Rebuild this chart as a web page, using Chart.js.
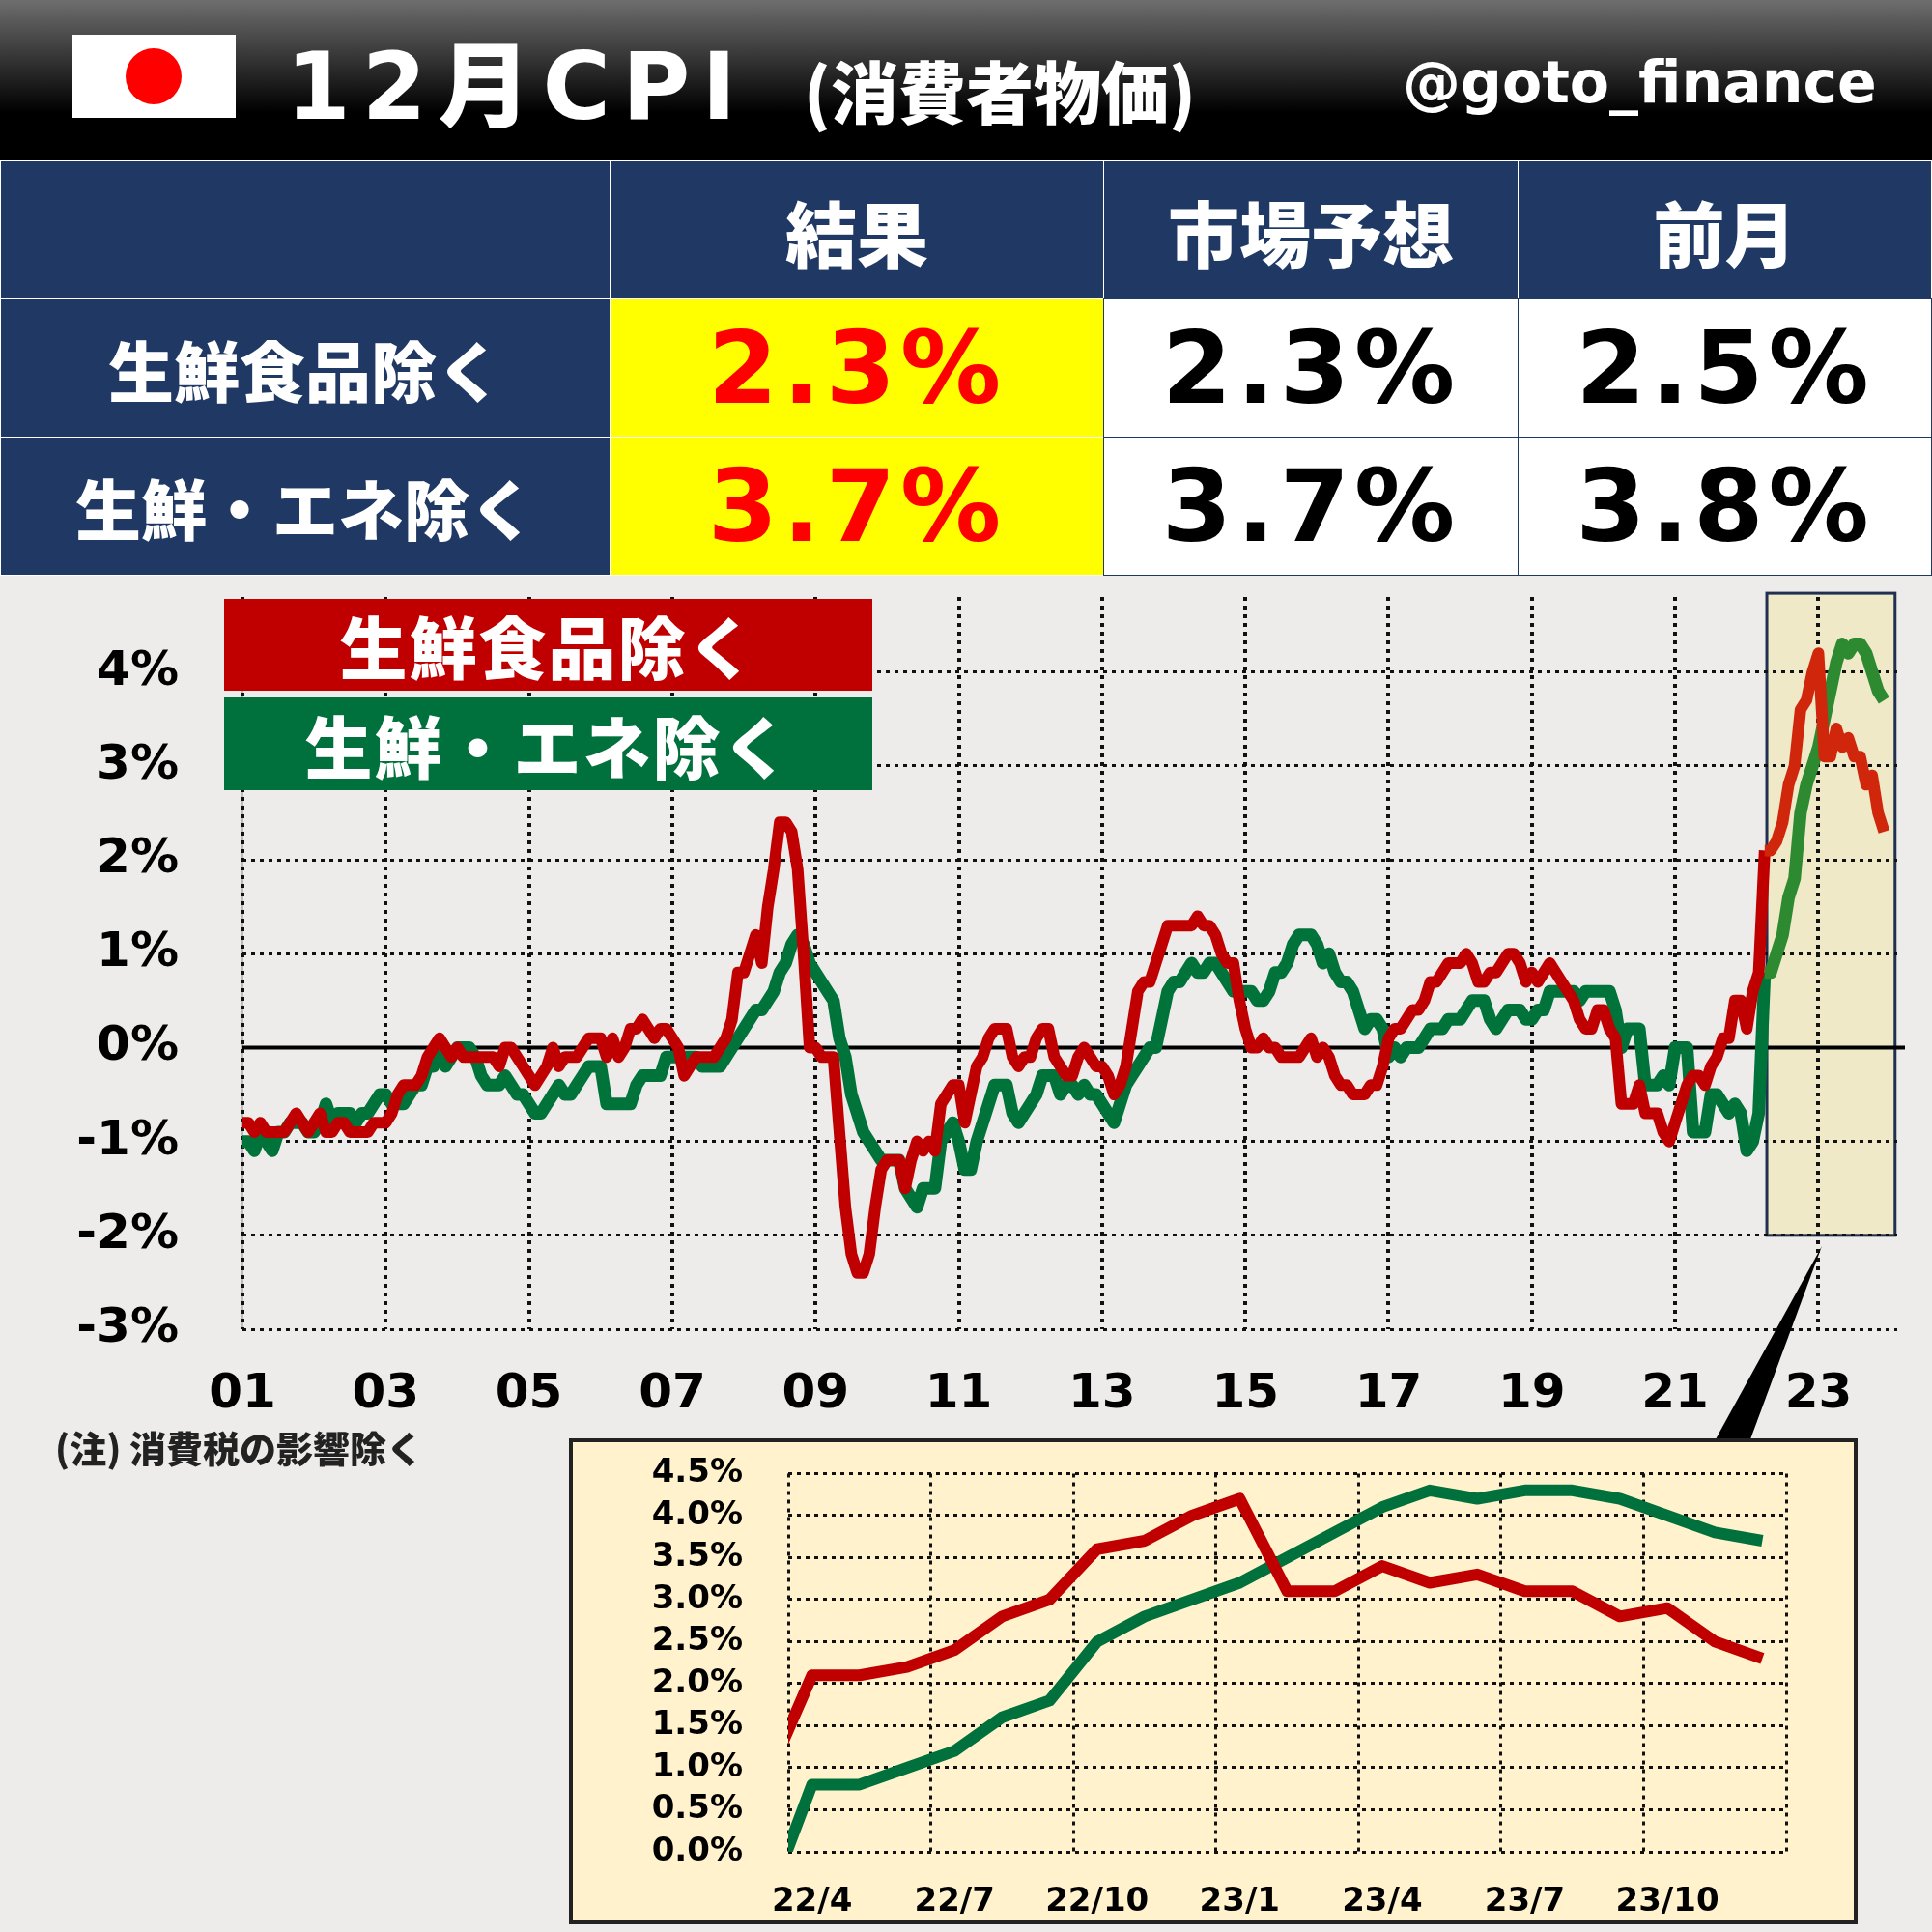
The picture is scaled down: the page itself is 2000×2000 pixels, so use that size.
<!DOCTYPE html>
<html><head><meta charset="utf-8">
<script src="https://cdn.jsdelivr.net/npm/chart.js@4"></script>
<style>
body{margin:0;width:2000px;height:2000px;background:#edecea;position:relative;overflow:hidden;font-family:"Noto Sans CJK JP",sans-serif;}
.abs{position:absolute;}
#hdr{left:0;top:0;width:2000px;height:166px;background:linear-gradient(#6e6e6e,#000 70%);}
.cell{position:absolute;display:flex;align-items:center;justify-content:center;box-sizing:border-box;border:1px solid #fff;font-weight:900;}
.navy{background:#1f3864;color:#fff;}
.val{font-family:"DejaVu Sans",sans-serif;font-size:104px;font-weight:bold;letter-spacing:5px;}
.leg{position:absolute;color:#fff;font-weight:900;font-size:70px;display:flex;align-items:center;justify-content:center;letter-spacing:2px;}
</style></head><body>
<div id="hdr" class="abs"></div>
<div class="abs" style="left:75px;top:36px;width:169px;height:86px;background:#fff;"></div>
<div class="abs" style="left:130px;top:50px;width:58px;height:58px;border-radius:50%;background:#f00;"></div>
<div class="abs" style="left:296px;top:12px;color:#fff;font-size:96px;font-weight:bold;font-family:'DejaVu Sans','Noto Sans CJK JP';letter-spacing:12px;">12<span style="font-family:'Noto Sans CJK JP';font-weight:900">月</span>CPI</div>
<div class="abs" style="left:832px;top:42px;color:#fff;font-size:70px;font-weight:900;">(消費者物価)</div>
<div class="abs" style="left:1452px;top:50px;color:#fff;font-size:60px;font-weight:bold;font-family:'DejaVu Sans';">@goto_finance</div>

<div class="cell navy" style="left:0;top:166px;width:632px;height:144px;"></div>
<div class="cell navy" style="left:631px;top:166px;width:512px;height:144px;font-size:74px;">結果</div>
<div class="cell navy" style="left:1142px;top:166px;width:430px;height:144px;font-size:74px;">市場予想</div>
<div class="cell navy" style="left:1571px;top:166px;width:429px;height:144px;font-size:74px;">前月</div>
<div class="cell navy" style="left:0;top:309px;width:632px;height:144px;font-size:68px;">生鮮食品除く</div>
<div class="cell navy" style="left:0;top:452px;width:632px;height:144px;font-size:68px;">生鮮・エネ除く</div>
<div class="cell val" style="left:631px;top:309px;width:512px;height:144px;background:#ff0;color:#f00;">2.3%</div>
<div class="cell val" style="left:631px;top:452px;width:512px;height:144px;background:#ff0;color:#f00;">3.7%</div>
<div class="cell val" style="left:1142px;top:309px;width:430px;height:144px;background:#fff;color:#000;border-color:#1f3864;">2.3%</div>
<div class="cell val" style="left:1142px;top:452px;width:430px;height:144px;background:#fff;color:#000;border-color:#1f3864;">3.7%</div>
<div class="cell val" style="left:1571px;top:309px;width:429px;height:144px;background:#fff;color:#000;border-color:#1f3864;">2.5%</div>
<div class="cell val" style="left:1571px;top:452px;width:429px;height:144px;background:#fff;color:#000;border-color:#1f3864;">3.8%</div>

<canvas id="main" class="abs" width="2000" height="958" style="left:0;top:522px;"></canvas>
<div class="leg" style="left:232px;top:620px;width:671px;height:95px;background:#c00000;">生鮮食品除く</div>
<div class="leg" style="left:232px;top:722px;width:671px;height:96px;background:#00703c;">生鮮・エネ除く</div>
<div class="abs" style="left:57px;top:1470px;font-size:38px;font-weight:900;color:#222;">(注) 消費税の影響除く</div>
<svg class="abs" style="left:0;top:0;" width="2000" height="2000"><polygon points="1886,1290 1776,1490 1812,1490" fill="#000"/></svg>
<div class="abs" style="left:589px;top:1489px;width:1334px;height:503px;background:#fff2cc;border:4px solid #222;box-sizing:border-box;"></div>
<canvas id="inset" class="abs" width="1334" height="534" style="left:589px;top:1458px;"></canvas>

<script>
const years = [2001,2002,2003,2004,2005,2006,2007,2008,2009,2010,2011,2012,2013,2014,2015,2016,2017,2018,2019,2020,2021,2022,2023];
const xTickLabels = ["01","03","05","07","09","11","13","15","17","19","21","23"];
const coreCPI = [
-0.8,-0.8,-0.9,-0.8,-0.9,-0.9,-0.9,-0.9,-0.8,-0.7,-0.8,-0.9,
-0.8,-0.7,-0.9,-0.9,-0.8,-0.8,-0.9,-0.9,-0.9,-0.9,-0.8,-0.8,
-0.8,-0.7,-0.5,-0.4,-0.4,-0.4,-0.3,-0.1,0.0,0.1,0.0,-0.1,
0.0,-0.1,-0.1,-0.1,-0.1,-0.1,-0.1,-0.2,0.0,0.0,-0.1,-0.2,
-0.3,-0.4,-0.3,-0.2,0.0,-0.2,-0.1,-0.1,-0.1,0.0,0.1,0.1,
0.1,-0.1,0.1,-0.1,0.0,0.2,0.2,0.3,0.2,0.1,0.2,0.2,
0.1,0.0,-0.3,-0.2,-0.1,-0.1,-0.1,-0.1,0.0,0.1,0.3,0.8,
0.8,1.0,1.2,0.9,1.5,1.9,2.4,2.4,2.3,1.9,1.0,0.0,
0.0,-0.1,-0.1,-0.1,-0.9,-1.7,-2.2,-2.4,-2.4,-2.2,-1.7,-1.3,
-1.2,-1.2,-1.2,-1.5,-1.2,-1.0,-1.1,-1.0,-1.1,-0.6,-0.5,-0.4,
-0.4,-0.8,-0.5,-0.2,-0.1,0.1,0.2,0.2,0.2,-0.1,-0.2,-0.1,
-0.1,0.1,0.2,0.2,-0.1,-0.2,-0.3,-0.3,-0.1,0.0,-0.1,-0.2,
-0.2,-0.3,-0.5,-0.4,-0.2,0.2,0.6,0.7,0.7,0.9,1.1,1.3,
1.3,1.3,1.3,1.3,1.4,1.3,1.3,1.2,1.0,0.9,0.9,0.5,
0.2,0.0,0.0,0.1,0.0,0.0,-0.1,-0.1,-0.1,-0.1,0.0,0.1,
-0.1,0.0,-0.1,-0.3,-0.4,-0.4,-0.5,-0.5,-0.5,-0.4,-0.4,-0.2,
0.1,0.2,0.2,0.3,0.4,0.4,0.5,0.7,0.7,0.8,0.9,0.9,
0.9,1.0,0.9,0.7,0.7,0.8,0.8,0.9,1.0,1.0,0.9,0.7,
0.8,0.7,0.8,0.9,0.8,0.7,0.6,0.5,0.3,0.2,0.2,0.4,
0.4,0.2,0.1,-0.6,-0.6,-0.6,-0.4,-0.7,-0.7,-0.7,-0.9,-1.0,
-0.8,-0.6,-0.4,-0.3,-0.3,-0.4,-0.2,-0.1,0.1,0.1,0.5,0.5,
0.2,0.6,0.8,2.1,2.1,2.2,2.4,2.8,3.0,3.6,3.7,4.0,
4.2,3.1,3.1,3.4,3.2,3.3,3.1,3.1,2.8,2.9,2.5,2.3];
const coreCoreCPI = [
-1.0,-1.0,-1.1,-0.9,-1.0,-1.1,-0.9,-0.9,-0.8,-0.8,-0.8,-0.9,
-0.9,-0.8,-0.6,-0.8,-0.7,-0.7,-0.7,-0.8,-0.7,-0.7,-0.6,-0.5,
-0.5,-0.6,-0.6,-0.6,-0.5,-0.4,-0.4,-0.2,-0.2,0.0,-0.2,-0.1,
0.0,0.0,0.0,-0.1,-0.3,-0.4,-0.4,-0.4,-0.3,-0.4,-0.5,-0.5,
-0.6,-0.7,-0.7,-0.6,-0.5,-0.4,-0.5,-0.5,-0.4,-0.3,-0.2,-0.2,
-0.2,-0.6,-0.6,-0.6,-0.6,-0.6,-0.4,-0.3,-0.3,-0.3,-0.3,-0.1,
-0.1,-0.1,-0.1,-0.1,-0.1,-0.2,-0.2,-0.2,-0.2,-0.1,0.0,0.1,
0.2,0.3,0.4,0.4,0.5,0.6,0.8,0.9,1.1,1.2,1.1,0.9,
0.8,0.7,0.6,0.5,0.1,-0.1,-0.5,-0.7,-0.9,-1.0,-1.1,-1.2,
-1.2,-1.2,-1.2,-1.5,-1.6,-1.7,-1.5,-1.5,-1.5,-1.0,-0.9,-0.8,
-1.0,-1.3,-1.3,-1.0,-0.8,-0.6,-0.4,-0.4,-0.4,-0.7,-0.8,-0.7,
-0.6,-0.5,-0.3,-0.3,-0.3,-0.5,-0.4,-0.4,-0.5,-0.4,-0.5,-0.5,
-0.6,-0.7,-0.8,-0.6,-0.4,-0.3,-0.2,-0.1,0.0,0.0,0.3,0.6,
0.7,0.7,0.8,0.9,0.8,0.8,0.9,0.9,0.8,0.7,0.6,0.6,
0.6,0.6,0.5,0.5,0.6,0.8,0.8,0.9,1.1,1.2,1.2,1.2,
1.1,0.9,1.0,0.8,0.7,0.7,0.6,0.4,0.2,0.3,0.3,0.2,
-0.1,0.0,-0.1,0.0,0.0,0.0,0.1,0.2,0.2,0.2,0.3,0.3,
0.3,0.4,0.5,0.5,0.5,0.3,0.2,0.3,0.4,0.4,0.4,0.3,
0.3,0.4,0.4,0.6,0.6,0.6,0.6,0.6,0.5,0.6,0.6,0.6,
0.6,0.6,0.4,0.0,0.2,0.2,0.2,-0.4,-0.4,-0.4,-0.3,-0.4,
0.0,0.0,0.0,-0.9,-0.9,-0.9,-0.5,-0.5,-0.6,-0.7,-0.6,-0.7,
-1.1,-1.0,-0.7,0.8,0.8,1.0,1.2,1.6,1.8,2.5,2.8,3.0,
3.2,3.5,3.8,4.1,4.3,4.2,4.3,4.3,4.2,4.0,3.8,3.7];
const yTickLabels = ["-3%","-2%","-1%","0%","1%","2%","3%","4%"];
const insetLabels = ["22/4","22/7","22/10","23/1","23/4","23/7","23/10"];
const insetYLabels = ["0.0%","0.5%","1.0%","1.5%","2.0%","2.5%","3.0%","3.5%","4.0%","4.5%"];

const RED='#c00000', GREEN='#00733a', RED2='#d0260c', GREEN2='#2d8a30';
const HL_START = 2022.25;
const pts = arr => arr.map((v,i)=>({x:years[0]+i/12, y:v}));
const FONT='"DejaVu Sans", sans-serif';
const DASH=[4,5];

const hlPlugin = {id:'hl', beforeDraw(c){
  const {ctx,scales:{x,y}}=c;
  const l=x.getPixelForValue(2022.28), r=x.getPixelForValue(2024.07), t=y.getPixelForValue(4.84), b=y.getPixelForValue(-2);
  ctx.save();ctx.fillStyle='#efe9c8';ctx.fillRect(l,t,r-l,b-t);ctx.strokeStyle='#1f3050';ctx.lineWidth=3;ctx.strokeRect(l,t,r-l,b-t);
  ctx.strokeStyle='#bbb';ctx.lineWidth=2;ctx.beginPath();ctx.moveTo(x.left,y.top);ctx.lineTo(x.left,y.bottom);ctx.stroke();
  ctx.restore();
}};
const zeroPlugin = {id:'zero', beforeDatasetsDraw(c){
  const {ctx,scales:{x,y}}=c; const yy=y.getPixelForValue(0);
  ctx.save();ctx.strokeStyle='#000';ctx.lineWidth=4;ctx.beginPath();ctx.moveTo(x.left,yy);ctx.lineTo(x.right+8,yy);ctx.stroke();ctx.restore();
}};

const segColor=(c1,c2)=>({borderColor:ctx=>ctx.p0.parsed.x>=HL_START?c2:c1});
new Chart(document.getElementById('main'),{
  type:'line',
  data:{datasets:[
    {data:pts(coreCPI),borderColor:RED,borderWidth:12,pointRadius:0,tension:0,segment:segColor(RED,RED2),borderJoinStyle:'round'},
    {data:pts(coreCoreCPI),borderColor:GREEN,borderWidth:13,pointRadius:0,tension:0,segment:segColor(GREEN,GREEN2),borderJoinStyle:'round'}
  ]},
  plugins:[hlPlugin,zeroPlugin],
  options:{responsive:false,animation:false,devicePixelRatio:1,
    layout:{padding:{top:25,right:36}},
    plugins:{legend:{display:false},tooltip:{enabled:false}},
    scales:{
      x:{type:'linear',min:2001,max:2024.1,
        afterBuildTicks:s=>{s.ticks=xTickLabels.map((l,i)=>({value:2001+2*i}));},
        afterFit:s=>{s.height=104;},
        ticks:{callback:(v,i)=>xTickLabels[i],font:{family:FONT,size:50,weight:'bold'},color:'#000',padding:38,maxRotation:0,autoSkip:false},
        grid:{color:'#111',lineWidth:4,drawTicks:false},border:{display:false,dash:DASH},
      },
      y:{min:-3,max:4.8,
        afterBuildTicks:s=>{s.ticks=yTickLabels.map((l,i)=>({value:i-3}));},
        afterFit:s=>{s.width=251;},
        ticks:{callback:(v,i)=>yTickLabels[i],font:{family:FONT,size:50,weight:'bold'},color:'#000',padding:66,autoSkip:false},
        grid:{color:'#111',lineWidth:3,drawTicks:false},border:{display:false,dash:DASH}
      }
    }
  }
});

const startIdx = (2022-years[0])*12+2; // 22/3
const insRed = coreCPI.slice(startIdx).map((v,i)=>({x:i-1,y:v}));
const insGreen = coreCoreCPI.slice(startIdx).map((v,i)=>({x:i-1,y:v}));
new Chart(document.getElementById('inset'),{
  type:'line',
  data:{datasets:[
    {data:insRed,borderColor:RED,borderWidth:12,pointRadius:0,tension:0,borderJoinStyle:'round'},
    {data:insGreen,borderColor:'#00703c',borderWidth:12,pointRadius:0,tension:0,borderJoinStyle:'round'}
  ]},
  options:{responsive:false,animation:false,devicePixelRatio:1,
    layout:{padding:{top:36,right:74}},
    plugins:{legend:{display:false},tooltip:{enabled:false}},
    scales:{
      x:{type:'linear',min:-0.5,max:20.5,
        afterBuildTicks:s=>{const t=[];for(let k=0;k<7;k++){t.push({value:-0.5+3*k});t.push({value:3*k});}t.push({value:20.5});s.ticks=t;},
        afterFit:s=>{s.height=75;},
        ticks:{autoSkip:false,maxRotation:0,callback:v=>(Number.isInteger(v)&&v%3===0)?insetLabels[v/3]:'',font:{family:FONT,size:34,weight:'bold'},color:'#000',padding:32},
        grid:{drawTicks:false,lineWidth:3,color:c=>(c.tick&&Number.isInteger(c.tick.value))?'rgba(0,0,0,0)':'#111'},border:{display:false,dash:DASH}
      },
      y:{min:0,max:4.5,
        afterBuildTicks:s=>{s.ticks=insetYLabels.map((l,i)=>({value:i*0.5}));},
        afterFit:s=>{s.width=227;},
        ticks:{autoSkip:false,callback:(v,i)=>insetYLabels[i],font:{family:FONT,size:34,weight:'bold'},color:'#000',padding:47},
        grid:{drawTicks:false,lineWidth:3,color:'#111'},border:{display:false,dash:DASH}
      }
    }
  }
});
</script>
</body></html>
